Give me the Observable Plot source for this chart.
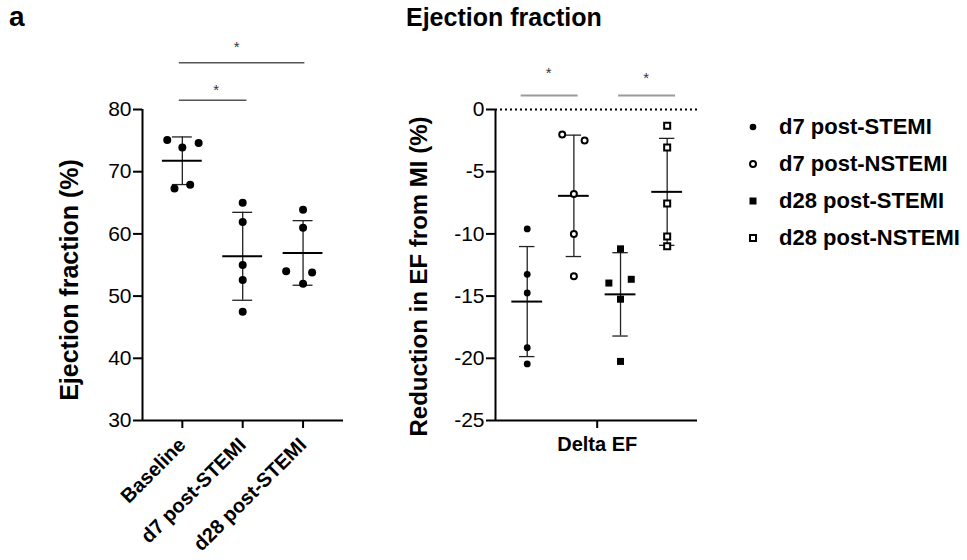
<!DOCTYPE html>
<html><head><meta charset="utf-8">
<script src="https://cdn.jsdelivr.net/npm/d3@7"></script>
<script src="https://cdn.jsdelivr.net/npm/@observablehq/plot@0.6"></script>
<style>
body{margin:0;background:#fff;font-family:"Liberation Sans",Arial,sans-serif;color:#000}
#wrap{position:relative;width:967px;height:560px;overflow:hidden}
.abs{position:absolute}
#letter{left:9px;top:3px;font-size:28px;line-height:28px;font-weight:bold}
#title{left:406px;top:5px;font-size:25px;line-height:25px;font-weight:bold}
#legend{left:745px;top:108px;font-size:22px;font-weight:bold}
#legend .row{display:flex;align-items:center;height:37px;line-height:37px;white-space:nowrap}
#legend svg{width:16px;height:16px;margin-right:18px;flex:none}
</style></head><body>
<div id="wrap">
  <div id="leftChart" class="abs" style="left:0;top:0"></div>
  <div id="rightChart" class="abs" style="left:380px;top:0"></div>
  <div id="letter" class="abs">a</div>
  <div id="title" class="abs">Ejection fraction</div>
  <div id="legend" class="abs"></div>
</div>
<script>
// ---------- data: left panel ----------
const categories = ["Baseline", "d7 post-STEMI", "d28 post-STEMI"];
const efTicks = [30, 40, 50, 60, 70, 80];
const baselineEF = [75.1, 73.9, 74.6, 67.3, 67.9];
const d7StemiEF  = [65.0, 61.9, 55.0, 52.6, 47.5];
const d28StemiEF = [63.9, 61.0, 54.0, 53.8, 52.0];
const efJitter = [
  [-0.25, 0.0, 0.27, -0.13, 0.13],
  [0, 0, 0, 0, 0],
  [0, 0, -0.28, 0.15, 0]
];
const efSigLines = [
  {x1: -0.05, x2: 2.03, y: 87.5, sx: 0.90, sy: 90.3},
  {x1: -0.05, x2: 1.07, y: 81.5, sx: 0.56, sy: 83.5}
];

// ---------- data: right panel ----------
const deltaSeries = ["d7 post-STEMI", "d7 post-NSTEMI", "d28 post-STEMI", "d28 post-NSTEMI"];
const deltaTicks = [-25, -20, -15, -10, -5, 0];
const deltaLabel = "Delta EF";
const d7StemiDelta   = [-9.6, -13.25, -14.75, -19.15, -20.45];
const d7NstemiDelta  = [-2.0, -2.5, -6.8, -10.0, -13.4];
const d28StemiDelta  = [-11.2, -13.95, -13.65, -15.25, -20.25];
const d28NstemiDelta = [-1.3, -3.05, -7.55, -10.2, -11.0];
const deltaJitter = [
  [0, 0, 0, 0, 0],
  [-0.25, 0.23, 0, 0, 0],
  [0, -0.25, 0.23, 0, 0],
  [0, 0, 0, 0, 0]
];
const deltaSigLines = [
  {x1: 0.87, x2: 2.09, y: 1.13, sx: 1.46, sy: 3.09},
  {x1: 2.96, x2: 4.18, y: 1.13, sx: 3.55, sy: 2.69}
];

// ---------- build tables ----------
const efValues = [baselineEF, d7StemiEF, d28StemiEF];
const efRows = efValues.flatMap((vals, i) => vals.map((v, j) => ({x: i + efJitter[i][j], v})));
const efStats = efValues.map((vals, i) => ({x: i, mean: d3.mean(vals), sd: d3.deviation(vals)}));

const deltaValues = [d7StemiDelta, d7NstemiDelta, d28StemiDelta, d28NstemiDelta];
const deltaRows = deltaValues.flatMap((vals, i) => vals.map((v, j) => ({s: i, x: i + 1 + deltaJitter[i][j], v})));
const deltaStats = deltaValues.map((vals, i) => ({x: i + 1, mean: d3.mean(vals), sd: d3.deviation(vals)}));

const font = '"Liberation Sans", Arial, sans-serif';
const capHalf = 0.165, meanHalf = 0.33;

function errorMarks(stats) {
  return [
    Plot.ruleX(stats, {x: "x", y1: d => d.mean - d.sd, y2: d => d.mean + d.sd, stroke: "#222", strokeWidth: 1.3}),
    Plot.ruleY(stats, {y: d => d.mean + d.sd, x1: d => d.x - capHalf, x2: d => d.x + capHalf, stroke: "#222", strokeWidth: 1.3}),
    Plot.ruleY(stats, {y: d => d.mean - d.sd, x1: d => d.x - capHalf, x2: d => d.x + capHalf, stroke: "#222", strokeWidth: 1.3}),
    Plot.ruleY(stats, {y: "mean", x1: d => d.x - meanHalf, x2: d => d.x + meanHalf, stroke: "#000", strokeWidth: 2})
  ];
}

// ---------- left chart ----------
const efXDomain = [-0.66, 2.67];
const left = Plot.plot({
  width: 380, height: 560,
  marginLeft: 142, marginRight: 37, marginTop: 109, marginBottom: 140,
  style: {fontFamily: font, color: "#000", overflow: "visible", background: "transparent"},
  x: {domain: efXDomain, axis: null},
  y: {domain: [efTicks[0], efTicks[efTicks.length - 1]], axis: null},
  marks: [
    Plot.axisY({ticks: efTicks, tickSize: 9, tickPadding: 2, fontSize: 21, strokeWidth: 2, label: null}),
    Plot.axisX({ticks: categories.map((c, i) => i), tickFormat: i => categories[i], tickRotate: -45,
                tickSize: 8, tickPadding: 13, fontSize: 20, fontWeight: "bold", strokeWidth: 2, label: null}),
    Plot.ruleX([efXDomain[0]], {strokeWidth: 2}),
    Plot.ruleY([efTicks[0]], {strokeWidth: 2}),
    Plot.text(["Ejection fraction (%)"], {frameAnchor: "left", textAnchor: "middle", lineAnchor: "middle",
                text: d => d, rotate: -90, dx: -73, dy: 15, fontSize: 25, fontWeight: "bold"}),
    Plot.ruleY(efSigLines, {y: "y", x1: "x1", x2: "x2", stroke: "#555", strokeWidth: 1.5}),
    Plot.text(efSigLines, {x: "sx", y: "sy", text: () => "*", fontSize: 15, fill: "#333", dy: 2}),
    ...errorMarks(efStats),
    Plot.dot(efRows, {x: "x", y: "v", r: 4, fill: "#000"})
  ]
});
document.getElementById("leftChart").append(left);

// ---------- right chart ----------
const deltaXDomain = [0.32, 4.65];
const sym = [
  {symbol: "circle", r: 3.4, fill: "#000", stroke: "none"},
  {symbol: "circle", r: 3.0, fill: "#fff", stroke: "#000", strokeWidth: 2},
  {symbol: "square", r: 3.95, fill: "#000", stroke: "none"},
  {symbol: "square", r: 3.4, fill: "#fff", stroke: "#000", strokeWidth: 2}
];
const right = Plot.plot({
  width: 340, height: 560,
  marginLeft: 115, marginRight: 23, marginTop: 109, marginBottom: 140,
  style: {fontFamily: font, color: "#000", overflow: "visible", background: "transparent"},
  x: {domain: deltaXDomain, axis: null},
  y: {domain: [deltaTicks[0], deltaTicks[deltaTicks.length - 1]], axis: null},
  marks: [
    Plot.axisY({ticks: deltaTicks, tickFormat: d => String(d), tickSize: 9, tickPadding: 2, fontSize: 21, strokeWidth: 2, label: null}),
    Plot.axisX({ticks: [(1 + deltaSeries.length) / 2], tickFormat: () => deltaLabel, tickSize: 8, tickPadding: 8,
                fontSize: 20, fontWeight: "bold", strokeWidth: 2, label: null}),
    Plot.ruleX([deltaXDomain[0]], {strokeWidth: 2}),
    Plot.ruleY([deltaTicks[0]], {strokeWidth: 2}),
    Plot.ruleY([0], {strokeWidth: 2, strokeDasharray: "2,3", x1: deltaXDomain[0], x2: deltaXDomain[1]}),
    Plot.text(["Reduction in EF from MI (%)"], {frameAnchor: "left", textAnchor: "middle", lineAnchor: "middle",
                text: d => d, rotate: -90, dx: -76.5, dy: 11.5, fontSize: 24, fontWeight: "bold"}),
    Plot.ruleY(deltaSigLines, {y: "y", x1: "x1", x2: "x2", stroke: "#9a9a9a", strokeWidth: 2}),
    Plot.text(deltaSigLines, {x: "sx", y: "sy", text: () => "*", fontSize: 15, fill: "#333", dy: 2}),
    ...errorMarks(deltaStats),
    ...sym.map((o, i) => Plot.dot(deltaRows.filter(d => d.s === i), {x: "x", y: "v", ...o}))
  ]
});
document.getElementById("rightChart").append(right);

// ---------- legend ----------
const legendSvg = [
  '<circle cx="8" cy="8" r="3.3" fill="#000"/>',
  '<circle cx="8" cy="8" r="3" fill="#fff" stroke="#000" stroke-width="2"/>',
  '<rect x="4.5" y="4.5" width="7" height="7" fill="#000"/>',
  '<rect x="5" y="5" width="6" height="6" fill="#fff" stroke="#000" stroke-width="2"/>'
];
const legend = document.getElementById("legend");
deltaSeries.forEach((name, i) => {
  const row = document.createElement("div");
  row.className = "row";
  row.innerHTML = `<svg viewBox="0 0 16 16">${legendSvg[i]}</svg><span>${name}</span>`;
  legend.append(row);
});
</script>
</body></html>
